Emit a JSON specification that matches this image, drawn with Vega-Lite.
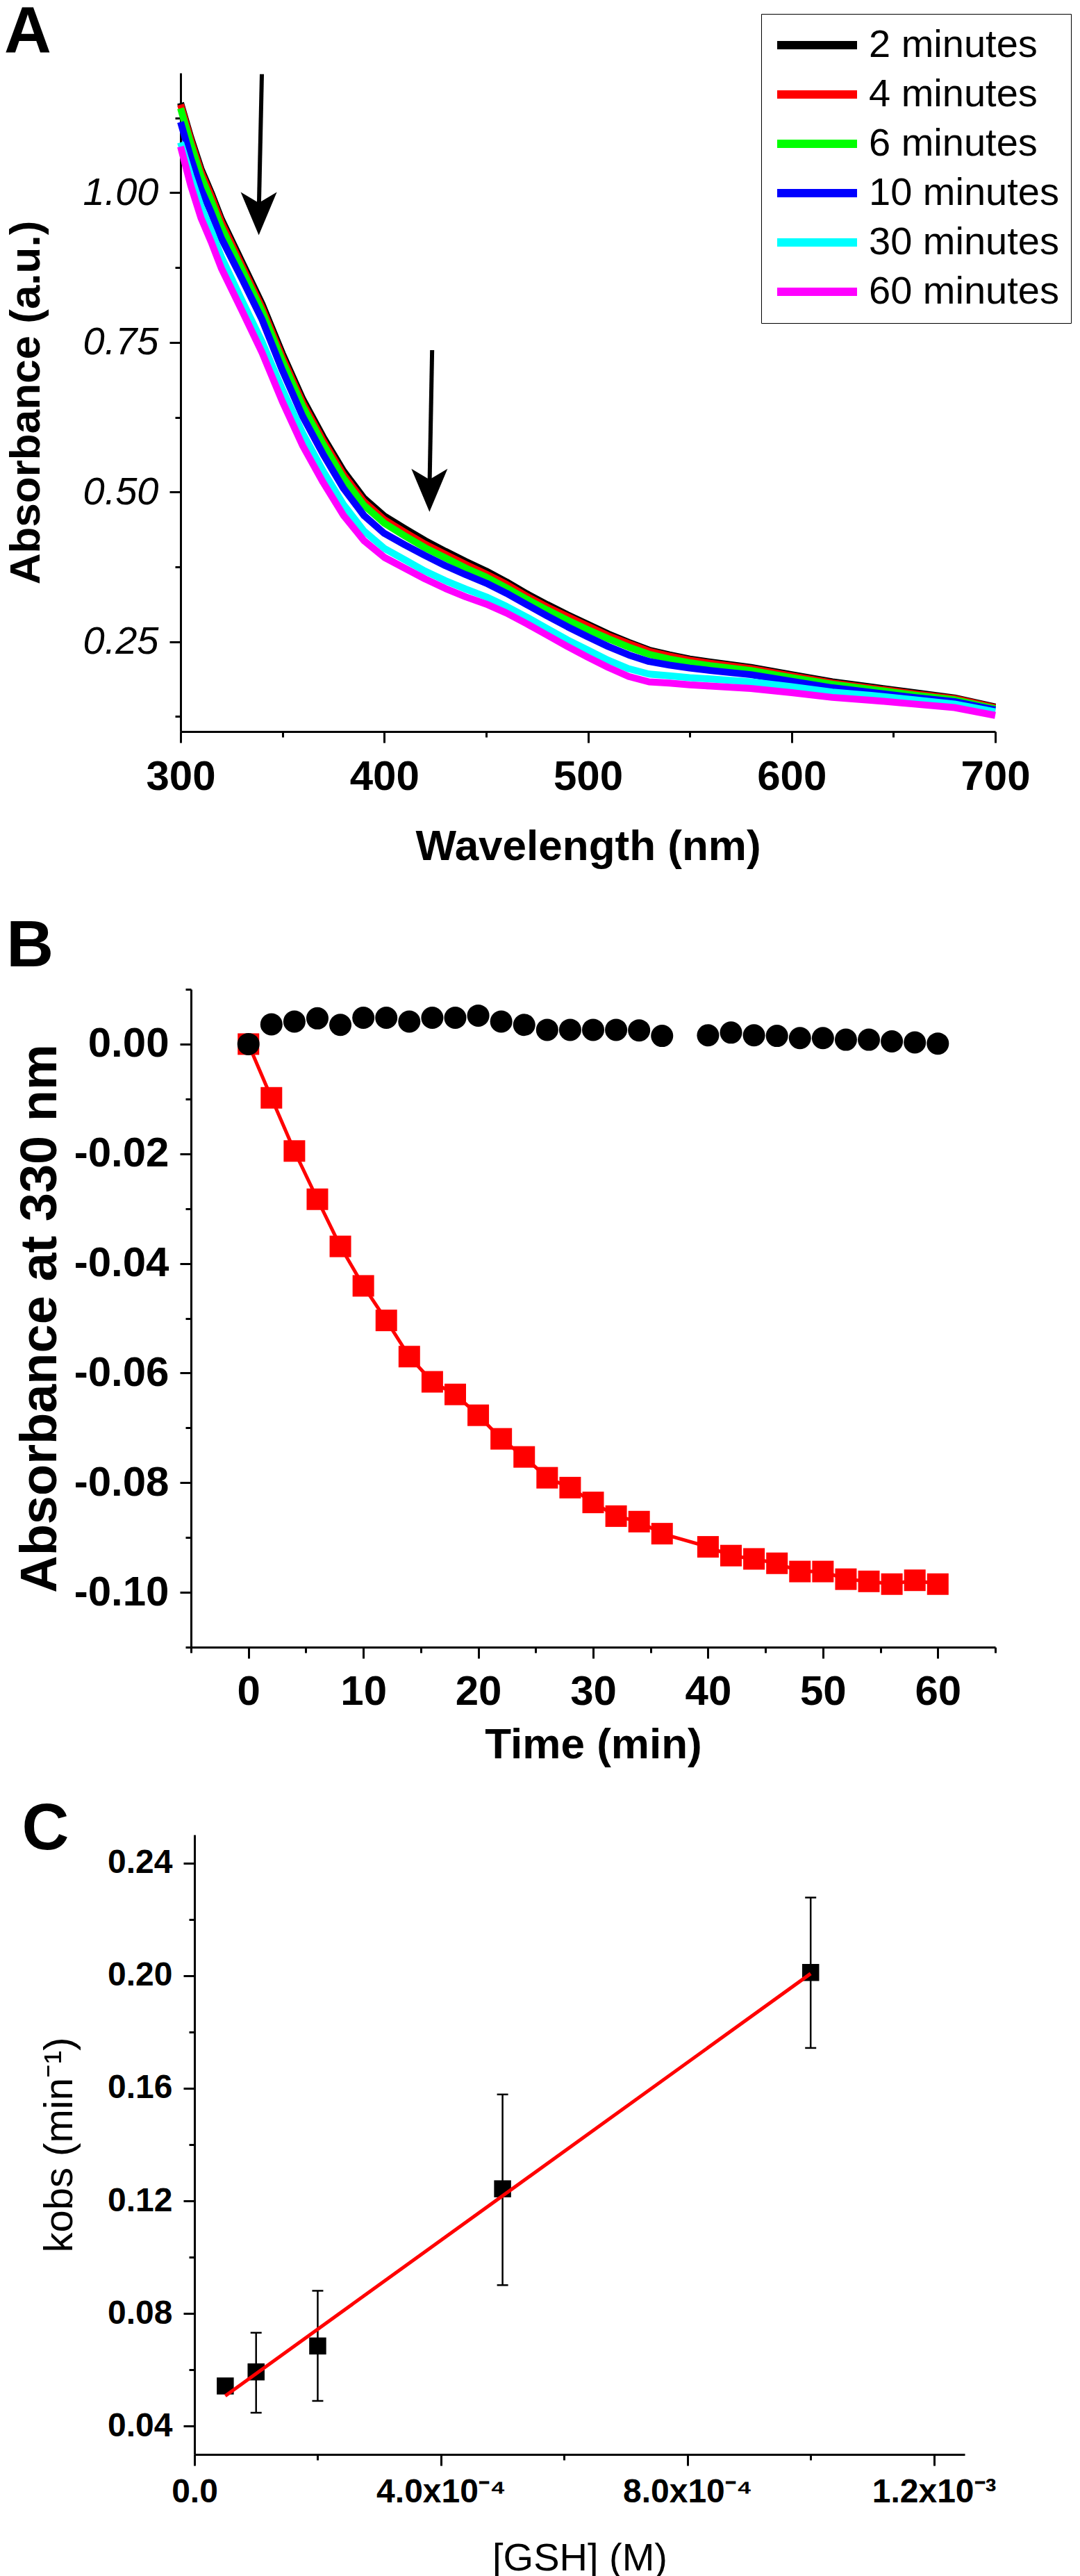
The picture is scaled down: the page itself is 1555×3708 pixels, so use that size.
{
  "$schema": "https://vega.github.io/schema/vega-lite/v6.json",
  "padding": {"left": 6, "top": 0, "right": 0, "bottom": 0},
  "autosize": {"type": "pad"},
  "background": "white",
  "config": {
    "view": {"stroke": null},
    "font": "Liberation Sans",
    "axis": {
      "grid": false,
      "domainColor": "black",
      "domainWidth": 3,
      "tickColor": "black",
      "tickWidth": 3,
      "labelColor": "black",
      "titleColor": "black",
      "labelFont": "Liberation Sans",
      "titleFont": "Liberation Sans",
      "labelOverlap": false,
      "labelFlush": false,
      "labelBound": false,
      "labelLimit": 0
    }
  },
  "datasets": {
    "spectra": [
      {"w":300,"s":"2 minutes","a":1.150},{"w":300,"s":"4 minutes","a":1.147},{"w":300,"s":"6 minutes","a":1.141},{"w":300,"s":"10 minutes","a":1.118},{"w":300,"s":"30 minutes","a":1.084},{"w":300,"s":"60 minutes","a":1.077},
      {"w":305,"s":"2 minutes","a":1.092},{"w":305,"s":"4 minutes","a":1.088},{"w":305,"s":"6 minutes","a":1.082},{"w":305,"s":"10 minutes","a":1.058},{"w":305,"s":"30 minutes","a":1.028},{"w":305,"s":"60 minutes","a":1.012},
      {"w":310,"s":"2 minutes","a":1.040},{"w":310,"s":"4 minutes","a":1.035},{"w":310,"s":"6 minutes","a":1.028},{"w":310,"s":"10 minutes","a":1.006},{"w":310,"s":"30 minutes","a":0.977},{"w":310,"s":"60 minutes","a":0.958},
      {"w":315,"s":"2 minutes","a":1.000},{"w":315,"s":"4 minutes","a":0.995},{"w":315,"s":"6 minutes","a":0.987},{"w":315,"s":"10 minutes","a":0.967},{"w":315,"s":"30 minutes","a":0.937},{"w":315,"s":"60 minutes","a":0.918},
      {"w":320,"s":"2 minutes","a":0.956},{"w":320,"s":"4 minutes","a":0.951},{"w":320,"s":"6 minutes","a":0.943},{"w":320,"s":"10 minutes","a":0.924},{"w":320,"s":"30 minutes","a":0.893},{"w":320,"s":"60 minutes","a":0.874},
      {"w":330,"s":"2 minutes","a":0.885},{"w":330,"s":"4 minutes","a":0.879},{"w":330,"s":"6 minutes","a":0.873},{"w":330,"s":"10 minutes","a":0.857},{"w":330,"s":"30 minutes","a":0.821},{"w":330,"s":"60 minutes","a":0.804},
      {"w":340,"s":"2 minutes","a":0.814},{"w":340,"s":"4 minutes","a":0.808},{"w":340,"s":"6 minutes","a":0.802},{"w":340,"s":"10 minutes","a":0.788},{"w":340,"s":"30 minutes","a":0.751},{"w":340,"s":"60 minutes","a":0.733},
      {"w":350,"s":"2 minutes","a":0.731},{"w":350,"s":"4 minutes","a":0.725},{"w":350,"s":"6 minutes","a":0.719},{"w":350,"s":"10 minutes","a":0.703},{"w":350,"s":"30 minutes","a":0.671},{"w":350,"s":"60 minutes","a":0.651},
      {"w":360,"s":"2 minutes","a":0.655},{"w":360,"s":"4 minutes","a":0.649},{"w":360,"s":"6 minutes","a":0.643},{"w":360,"s":"10 minutes","a":0.626},{"w":360,"s":"30 minutes","a":0.598},{"w":360,"s":"60 minutes","a":0.577},
      {"w":370,"s":"2 minutes","a":0.592},{"w":370,"s":"4 minutes","a":0.586},{"w":370,"s":"6 minutes","a":0.580},{"w":370,"s":"10 minutes","a":0.563},{"w":370,"s":"30 minutes","a":0.535},{"w":370,"s":"60 minutes","a":0.516},
      {"w":380,"s":"2 minutes","a":0.535},{"w":380,"s":"4 minutes","a":0.529},{"w":380,"s":"6 minutes","a":0.523},{"w":380,"s":"10 minutes","a":0.506},{"w":380,"s":"30 minutes","a":0.479},{"w":380,"s":"60 minutes","a":0.461},
      {"w":390,"s":"2 minutes","a":0.490},{"w":390,"s":"4 minutes","a":0.484},{"w":390,"s":"6 minutes","a":0.478},{"w":390,"s":"10 minutes","a":0.461},{"w":390,"s":"30 minutes","a":0.435},{"w":390,"s":"60 minutes","a":0.419},
      {"w":400,"s":"2 minutes","a":0.460},{"w":400,"s":"4 minutes","a":0.454},{"w":400,"s":"6 minutes","a":0.448},{"w":400,"s":"10 minutes","a":0.431},{"w":400,"s":"30 minutes","a":0.406},{"w":400,"s":"60 minutes","a":0.391},
      {"w":410,"s":"2 minutes","a":0.439},{"w":410,"s":"4 minutes","a":0.433},{"w":410,"s":"6 minutes","a":0.427},{"w":410,"s":"10 minutes","a":0.412},{"w":410,"s":"30 minutes","a":0.387},{"w":410,"s":"60 minutes","a":0.373},
      {"w":420,"s":"2 minutes","a":0.419},{"w":420,"s":"4 minutes","a":0.413},{"w":420,"s":"6 minutes","a":0.407},{"w":420,"s":"10 minutes","a":0.394},{"w":420,"s":"30 minutes","a":0.368},{"w":420,"s":"60 minutes","a":0.355},
      {"w":430,"s":"2 minutes","a":0.401},{"w":430,"s":"4 minutes","a":0.396},{"w":430,"s":"6 minutes","a":0.390},{"w":430,"s":"10 minutes","a":0.377},{"w":430,"s":"30 minutes","a":0.352},{"w":430,"s":"60 minutes","a":0.339},
      {"w":440,"s":"2 minutes","a":0.384},{"w":440,"s":"4 minutes","a":0.379},{"w":440,"s":"6 minutes","a":0.373},{"w":440,"s":"10 minutes","a":0.362},{"w":440,"s":"30 minutes","a":0.338},{"w":440,"s":"60 minutes","a":0.325},
      {"w":450,"s":"2 minutes","a":0.368},{"w":450,"s":"4 minutes","a":0.363},{"w":450,"s":"6 minutes","a":0.358},{"w":450,"s":"10 minutes","a":0.348},{"w":450,"s":"30 minutes","a":0.325},{"w":450,"s":"60 minutes","a":0.313},
      {"w":460,"s":"2 minutes","a":0.350},{"w":460,"s":"4 minutes","a":0.346},{"w":460,"s":"6 minutes","a":0.340},{"w":460,"s":"10 minutes","a":0.331},{"w":460,"s":"30 minutes","a":0.309},{"w":460,"s":"60 minutes","a":0.298},
      {"w":470,"s":"2 minutes","a":0.330},{"w":470,"s":"4 minutes","a":0.326},{"w":470,"s":"6 minutes","a":0.321},{"w":470,"s":"10 minutes","a":0.312},{"w":470,"s":"30 minutes","a":0.291},{"w":470,"s":"60 minutes","a":0.280},
      {"w":480,"s":"2 minutes","a":0.312},{"w":480,"s":"4 minutes","a":0.308},{"w":480,"s":"6 minutes","a":0.303},{"w":480,"s":"10 minutes","a":0.293},{"w":480,"s":"30 minutes","a":0.272},{"w":480,"s":"60 minutes","a":0.261},
      {"w":490,"s":"2 minutes","a":0.295},{"w":490,"s":"4 minutes","a":0.292},{"w":490,"s":"6 minutes","a":0.286},{"w":490,"s":"10 minutes","a":0.275},{"w":490,"s":"30 minutes","a":0.253},{"w":490,"s":"60 minutes","a":0.242},
      {"w":500,"s":"2 minutes","a":0.279},{"w":500,"s":"4 minutes","a":0.276},{"w":500,"s":"6 minutes","a":0.270},{"w":500,"s":"10 minutes","a":0.258},{"w":500,"s":"30 minutes","a":0.236},{"w":500,"s":"60 minutes","a":0.224},
      {"w":510,"s":"2 minutes","a":0.263},{"w":510,"s":"4 minutes","a":0.260},{"w":510,"s":"6 minutes","a":0.255},{"w":510,"s":"10 minutes","a":0.242},{"w":510,"s":"30 minutes","a":0.219},{"w":510,"s":"60 minutes","a":0.207},
      {"w":520,"s":"2 minutes","a":0.249},{"w":520,"s":"4 minutes","a":0.247},{"w":520,"s":"6 minutes","a":0.241},{"w":520,"s":"10 minutes","a":0.228},{"w":520,"s":"30 minutes","a":0.205},{"w":520,"s":"60 minutes","a":0.192},
      {"w":530,"s":"2 minutes","a":0.236},{"w":530,"s":"4 minutes","a":0.234},{"w":530,"s":"6 minutes","a":0.229},{"w":530,"s":"10 minutes","a":0.217},{"w":530,"s":"30 minutes","a":0.196},{"w":530,"s":"60 minutes","a":0.183},
      {"w":540,"s":"2 minutes","a":0.228},{"w":540,"s":"4 minutes","a":0.226},{"w":540,"s":"6 minutes","a":0.221},{"w":540,"s":"10 minutes","a":0.211},{"w":540,"s":"30 minutes","a":0.193},{"w":540,"s":"60 minutes","a":0.181},
      {"w":550,"s":"2 minutes","a":0.221},{"w":550,"s":"4 minutes","a":0.219},{"w":550,"s":"6 minutes","a":0.215},{"w":550,"s":"10 minutes","a":0.206},{"w":550,"s":"30 minutes","a":0.190},{"w":550,"s":"60 minutes","a":0.178},
      {"w":560,"s":"2 minutes","a":0.216},{"w":560,"s":"4 minutes","a":0.214},{"w":560,"s":"6 minutes","a":0.210},{"w":560,"s":"10 minutes","a":0.202},{"w":560,"s":"30 minutes","a":0.188},{"w":560,"s":"60 minutes","a":0.176},
      {"w":580,"s":"2 minutes","a":0.207},{"w":580,"s":"4 minutes","a":0.205},{"w":580,"s":"6 minutes","a":0.202},{"w":580,"s":"10 minutes","a":0.195},{"w":580,"s":"30 minutes","a":0.183},{"w":580,"s":"60 minutes","a":0.172},
      {"w":600,"s":"2 minutes","a":0.195},{"w":600,"s":"4 minutes","a":0.193},{"w":600,"s":"6 minutes","a":0.190},{"w":600,"s":"10 minutes","a":0.184},{"w":600,"s":"30 minutes","a":0.175},{"w":600,"s":"60 minutes","a":0.165},
      {"w":620,"s":"2 minutes","a":0.183},{"w":620,"s":"4 minutes","a":0.181},{"w":620,"s":"6 minutes","a":0.179},{"w":620,"s":"10 minutes","a":0.173},{"w":620,"s":"30 minutes","a":0.166},{"w":620,"s":"60 minutes","a":0.157},
      {"w":640,"s":"2 minutes","a":0.174},{"w":640,"s":"4 minutes","a":0.172},{"w":640,"s":"6 minutes","a":0.170},{"w":640,"s":"10 minutes","a":0.165},{"w":640,"s":"30 minutes","a":0.160},{"w":640,"s":"60 minutes","a":0.152},
      {"w":660,"s":"2 minutes","a":0.165},{"w":660,"s":"4 minutes","a":0.163},{"w":660,"s":"6 minutes","a":0.161},{"w":660,"s":"10 minutes","a":0.157},{"w":660,"s":"30 minutes","a":0.153},{"w":660,"s":"60 minutes","a":0.146},
      {"w":680,"s":"2 minutes","a":0.156},{"w":680,"s":"4 minutes","a":0.155},{"w":680,"s":"6 minutes","a":0.153},{"w":680,"s":"10 minutes","a":0.150},{"w":680,"s":"30 minutes","a":0.146},{"w":680,"s":"60 minutes","a":0.140},
      {"w":700,"s":"2 minutes","a":0.141},{"w":700,"s":"4 minutes","a":0.140},{"w":700,"s":"6 minutes","a":0.138},{"w":700,"s":"10 minutes","a":0.136},{"w":700,"s":"30 minutes","a":0.133},{"w":700,"s":"60 minutes","a":0.127}
    ],
    "arrows": [
      {"x": 339.9, "y": 1.198, "x2": 338.4, "y2": 0.965},
      {"x": 423.5, "y": 0.737, "x2": 422.2, "y2": 0.503}
    ],
    "circles": [
      {"t":0,"v":0.0},{"t":2,"v":0.0036},{"t":4,"v":0.0041},{"t":6,"v":0.0047},{"t":8,"v":0.0035},{"t":10,"v":0.0048},
      {"t":12,"v":0.0048},{"t":14,"v":0.0041},{"t":16,"v":0.0048},{"t":18,"v":0.0048},{"t":20,"v":0.0052},{"t":22,"v":0.0041},
      {"t":24,"v":0.0035},{"t":26,"v":0.0026},{"t":28,"v":0.0026},{"t":30,"v":0.0026},{"t":32,"v":0.0026},{"t":34,"v":0.0025},
      {"t":36,"v":0.0015},{"t":40,"v":0.0016},{"t":42,"v":0.0021},{"t":44,"v":0.0016},{"t":46,"v":0.0015},{"t":48,"v":0.0011},
      {"t":50,"v":0.0011},{"t":52,"v":0.0008},{"t":54,"v":0.0008},{"t":56,"v":0.0005},{"t":58,"v":0.0003},{"t":60,"v":0.0001}
    ],
    "squares": [
      {"t":0,"v":0.0},{"t":2,"v":-0.0098},{"t":4,"v":-0.0195},{"t":6,"v":-0.0283},{"t":8,"v":-0.0369},{"t":10,"v":-0.0441},
      {"t":12,"v":-0.0504},{"t":14,"v":-0.0570},{"t":16,"v":-0.0616},{"t":18,"v":-0.0639},{"t":20,"v":-0.0677},{"t":22,"v":-0.0720},
      {"t":24,"v":-0.0753},{"t":26,"v":-0.0791},{"t":28,"v":-0.0809},{"t":30,"v":-0.0836},{"t":32,"v":-0.0861},{"t":34,"v":-0.0871},
      {"t":36,"v":-0.0893},{"t":40,"v":-0.0917},{"t":42,"v":-0.0933},{"t":44,"v":-0.0939},{"t":46,"v":-0.0947},{"t":48,"v":-0.0962},
      {"t":50,"v":-0.0962},{"t":52,"v":-0.0976},{"t":54,"v":-0.0980},{"t":56,"v":-0.0985},{"t":58,"v":-0.0978},{"t":60,"v":-0.0985}
    ],
    "kobs": [
      {"g":0.00005,"k":0.0543},{"g":0.0001,"k":0.0593},{"g":0.0002,"k":0.0685},{"g":0.0005,"k":0.1243},{"g":0.001,"k":0.2011}
    ],
    "errs": [
      {"g":0.0001,"lo":0.0448,"hi":0.0732},{"g":0.0002,"lo":0.0490,"hi":0.0881},{"g":0.0005,"lo":0.0901,"hi":0.1578},{"g":0.001,"lo":0.1743,"hi":0.2277}
    ],
    "fit": [
      {"g":0.00005,"f":0.0508},{"g":0.001,"f":0.2007}
    ]
  },
  "bounds": "flush",
  "spacing": 371,
  "vconcat": [
    {
      "width": 1173,
      "height": 948,
      "title": {"text": "A", "anchor": "start", "frame": "bounds", "fontSize": 94, "fontWeight": "bold", "font": "Liberation Sans", "baseline": "alphabetic", "offset": -66, "dx": 0, "color": "black"},
      "layer": [
        {
          "data": {"name": "spectra"},
          "mark": {"type": "line", "strokeWidth": 10, "strokeJoin": "round", "strokeCap": "butt"},
          "encoding": {
            "x": {"field": "w", "type": "quantitative",
              "scale": {"domain": [300, 700], "nice": false, "zero": false},
              "axis": {"title": "Wavelength (nm)", "values": [300,350,400,450,500,550,600,650,700],
                "labelExpr": "datum.value % 100 == 0 ? format(datum.value, 'd') : ''",
                "tickSize": {"condition": {"test": "datum.value % 100 == 0", "value": 16}, "value": 8},
                "labelFontSize": 60, "labelFontWeight": "bold", "labelPadding": 20,
                "titleFontSize": 62, "titleFontWeight": "bold", "titlePadding": 40}},
            "y": {"field": "a", "type": "quantitative",
              "scale": {"domain": [0.1, 1.2], "nice": false, "zero": false},
              "axis": {"title": "Absorbance (a.u.)", "values": [0.125,0.25,0.375,0.5,0.625,0.75,0.875,1.0,1.125],
                "labelExpr": "abs(datum.value*4 - round(datum.value*4)) < 0.01 ? format(datum.value, '.2f') : ''",
                "tickSize": {"condition": {"test": "abs(datum.value*4 - round(datum.value*4)) < 0.01", "value": 16}, "value": 8},
                "labelFontSize": 56, "labelFontStyle": "italic", "labelPadding": 16,
                "titleFontSize": 62, "titleFontWeight": "bold", "titlePadding": 50}},
            "color": {"field": "s", "type": "nominal",
              "scale": {"domain": ["2 minutes","4 minutes","6 minutes","10 minutes","30 minutes","60 minutes"],
                        "range": ["#000000","#ff0000","#00ff00","#0000ff","#00ffff","#ff00ff"]},
              "legend": {"orient": "none", "legendX": 836, "legendY": -85, "title": null,
                "symbolType": "stroke", "symbolSize": 13225, "symbolStrokeWidth": 12, "clipHeight": 56,
                "rowPadding": 15, "labelFontSize": 56, "labelFont": "Liberation Sans", "labelOffset": 11,
                "padding": 17, "strokeColor": "black", "labelColor": "black", "labelLimit": 0, "symbolOpacity": 1}}
          }
        },
        {
          "data": {"name": "arrows"},
          "mark": {"type": "rule", "strokeWidth": 6, "color": "black"},
          "encoding": {
            "x": {"field": "x", "type": "quantitative"},
            "y": {"field": "y", "type": "quantitative"},
            "x2": {"field": "x2"},
            "y2": {"field": "y2"}
          }
        },
        {
          "data": {"name": "arrows"},
          "mark": {"type": "point", "shape": "M0,1L-0.84,-1L0,-0.5L0.84,-1Z", "filled": true, "size": 3844, "color": "black", "opacity": 1, "strokeJoin": "round"},
          "encoding": {
            "x": {"field": "x2", "type": "quantitative"},
            "y": {"field": "y2", "type": "quantitative"}
          }
        }
      ]
    },
    {
      "bounds": "flush",
      "spacing": 270,
      "vconcat": [
        {
          "width": 1173,
          "height": 947,
          "title": {"text": "B", "anchor": "start", "frame": "bounds", "fontSize": 94, "fontWeight": "bold", "font": "Liberation Sans", "baseline": "alphabetic", "offset": -91, "dx": -12, "color": "black"},
          "layer": [
            {
              "data": {"name": "squares"},
              "mark": {"type": "line", "strokeWidth": 5, "color": "#ff0000"},
              "encoding": {
                "x": {"field": "t", "type": "quantitative",
                  "scale": {"domain": [-5, 65], "nice": false, "zero": false, "rangeMin": 15},
                  "axis": {"title": "Time (min)", "values": [-5,0,5,10,15,20,25,30,35,40,45,50,55,60,65],
                    "labelExpr": "datum.value % 10 == 0 ? format(datum.value, 'd') : ''",
                    "tickSize": {"condition": {"test": "datum.value % 10 == 0", "value": 16}, "value": 8},
                    "labelFontSize": 60, "labelFontWeight": "bold", "labelPadding": 19,
                    "titleFontSize": 62, "titleFontWeight": "bold", "titlePadding": 16}},
                "y": {"field": "v", "type": "quantitative",
                  "scale": {"domain": [-0.11, 0.01], "nice": false, "zero": false},
                  "axis": {"title": "Absorbance at 330 nm", "offset": -15,
                    "values": [-0.11,-0.1,-0.09,-0.08,-0.07,-0.06,-0.05,-0.04,-0.03,-0.02,-0.01,0,0.01],
                    "labelExpr": "abs(datum.value*50 - round(datum.value*50)) < 0.01 ? replace(format(datum.value, '.2f'), '\u2212', '-') : ''",
                    "tickSize": {"condition": {"test": "abs(datum.value*50 - round(datum.value*50)) < 0.01", "value": 16}, "value": 8},
                    "labelFontSize": 60, "labelFontWeight": "bold", "labelPadding": 16,
                    "titleFontSize": 74, "titleFontWeight": "bold", "titlePadding": 10}}
              }
            },
            {
              "data": {"name": "squares"},
              "mark": {"type": "point", "shape": "square", "filled": true, "size": 961, "color": "#ff0000", "opacity": 1},
              "encoding": {
                "x": {"field": "t", "type": "quantitative"},
                "y": {"field": "v", "type": "quantitative"}
              }
            },
            {
              "data": {"name": "circles"},
              "mark": {"type": "point", "shape": "circle", "filled": true, "size": 1024, "color": "#000000", "opacity": 1},
              "encoding": {
                "x": {"field": "t", "type": "quantitative"},
                "y": {"field": "v", "type": "quantitative"}
              }
            }
          ]
        },
        {
          "width": 1129,
          "height": 892,
          "title": {"text": "C", "anchor": "start", "frame": "bounds", "fontSize": 94, "fontWeight": "bold", "font": "Liberation Sans", "baseline": "alphabetic", "offset": -115, "dx": -26, "color": "black"},
          "layer": [
            {
              "data": {"name": "errs"},
              "mark": {"type": "rule", "strokeWidth": 2.5, "color": "black"},
              "encoding": {
                "x": {"field": "g", "type": "quantitative",
                  "scale": {"domain": [0, 0.00125], "nice": false, "zero": false, "rangeMin": 20},
                  "axis": {"title": "[GSH] (M)", "values": [0, 0.0002, 0.0004, 0.0006, 0.0008, 0.001, 0.0012],
                    "labelExpr": "datum.value < 0.00001 ? '0.0' : abs(datum.value - 0.0004) < 0.000001 ? '4.0x10⁻⁴' : abs(datum.value - 0.0008) < 0.000001 ? '8.0x10⁻⁴' : abs(datum.value - 0.0012) < 0.000001 ? '1.2x10⁻³' : ''",
                    "tickSize": {"condition": {"test": "abs(datum.value/0.0004 - round(datum.value/0.0004)) < 0.01", "value": 16}, "value": 8},
                    "labelFontSize": 48, "labelFontWeight": "bold", "labelPadding": 14,
                    "titleFontSize": 56, "titleFontWeight": "normal", "titlePadding": 44}},
                "y": {"field": "lo", "type": "quantitative",
                  "scale": {"domain": [0.03, 0.25], "nice": false, "zero": false},
                  "axis": {"title": "kobs (min⁻¹)", "offset": -20,
                    "values": [0.04,0.06,0.08,0.1,0.12,0.14,0.16,0.18,0.2,0.22,0.24],
                    "labelExpr": "abs(datum.value*25 - round(datum.value*25)) < 0.01 ? format(datum.value, '.2f') : ''",
                    "tickSize": {"condition": {"test": "abs(datum.value*25 - round(datum.value*25)) < 0.01", "value": 16}, "value": 8},
                    "labelFontSize": 48, "labelFontWeight": "bold", "labelPadding": 16,
                    "titleFontSize": 58, "titleFontWeight": "normal", "titlePadding": 39}},
                "y2": {"field": "hi"}
              }
            },
            {
              "data": {"name": "errs"},
              "mark": {"type": "tick", "orient": "horizontal", "size": 16, "thickness": 2.5, "color": "black", "opacity": 1},
              "encoding": {
                "x": {"field": "g", "type": "quantitative"},
                "y": {"field": "lo", "type": "quantitative"}
              }
            },
            {
              "data": {"name": "errs"},
              "mark": {"type": "tick", "orient": "horizontal", "size": 16, "thickness": 2.5, "color": "black", "opacity": 1},
              "encoding": {
                "x": {"field": "g", "type": "quantitative"},
                "y": {"field": "hi", "type": "quantitative"}
              }
            },
            {
              "data": {"name": "kobs"},
              "mark": {"type": "point", "shape": "square", "filled": true, "size": 600, "color": "black", "opacity": 1},
              "encoding": {
                "x": {"field": "g", "type": "quantitative"},
                "y": {"field": "k", "type": "quantitative"}
              }
            },
            {
              "data": {"name": "fit"},
              "mark": {"type": "line", "strokeWidth": 5, "color": "#ff0000"},
              "encoding": {
                "x": {"field": "g", "type": "quantitative"},
                "y": {"field": "f", "type": "quantitative"}
              }
            }
          ]
        }
      ]
    }
  ]
}
